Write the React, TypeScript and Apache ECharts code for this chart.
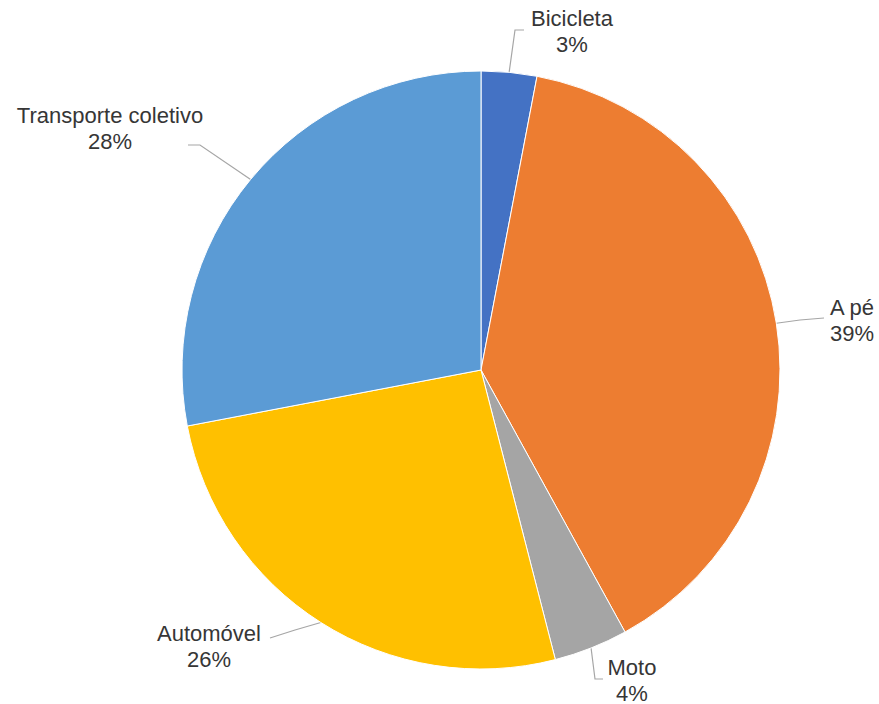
import React, { useEffect, useRef } from 'react';
import * as echarts from 'echarts';

const categories = ['Bicicleta', 'A pé', 'Moto', 'Automóvel', 'Transporte coletivo'];
const shares = [3, 39, 4, 26, 28];
const sliceColors = ['#4472C4', '#ED7D31', '#A5A5A5', '#FFC000', '#5B9BD5'];

// label text-block centres and leader-line bends (layout only)
const labelCenters: number[][] = [[572, 31], [852, 320], [632, 680], [209, 646], [110, 128]];
const leaderBends: number[][][] = [
  [[515, 30], [524, 30]],
  [[800, 320], [824, 318]],
  [[595, 679], [603, 679]],
  [[295, 630], [270, 638]],
  [[200, 145], [188, 145]],
];

export default function App() {
  const ref = useRef<HTMLDivElement>(null);
  useEffect(() => {
    if (!ref.current) return;
    const chart = echarts.init(ref.current, null, { renderer: 'svg' });
    chart.setOption({
      animation: false,
      backgroundColor: '#ffffff',
      series: [
        {
          type: 'pie',
          center: [481, 370],
          radius: 299,
          startAngle: 90,
          clockwise: true,
          avoidLabelOverlap: false,
          itemStyle: { borderColor: '#ffffff', borderWidth: 1 },
          label: {
            show: true,
            position: 'outside',
            formatter: (p: any) => `${p.name}\n${Math.round(p.percent)}%`,
            fontSize: 22,
            lineHeight: 26,
            fontFamily: 'Liberation Sans, Arial, sans-serif',
            color: '#363636',
            align: 'center',
          },
          labelLine: {
            show: true,
            smooth: false,
            length: 20,
            length2: 10,
            lineStyle: { color: '#A6A6A6', width: 1.2 },
          },
          labelLayout: (params: any) => {
            const i = params.dataIndex;
            const anchor = params.labelLinePoints ? params.labelLinePoints[0] : leaderBends[i][0];
            return {
              x: labelCenters[i][0],
              y: labelCenters[i][1],
              align: 'center',
              verticalAlign: 'middle',
              labelLinePoints: [anchor, leaderBends[i][0], leaderBends[i][1]],
            };
          },
          emphasis: { disabled: true },
          data: categories.map((name, i) => ({
            name,
            value: shares[i],
            itemStyle: { color: sliceColors[i] },
          })),
        },
      ],
    });
    return () => chart.dispose();
  }, []);
  return (
    <div
      ref={ref}
      style={{ position: 'fixed', left: 0, top: 0, width: 879, height: 704 }}
    />
  );
}
